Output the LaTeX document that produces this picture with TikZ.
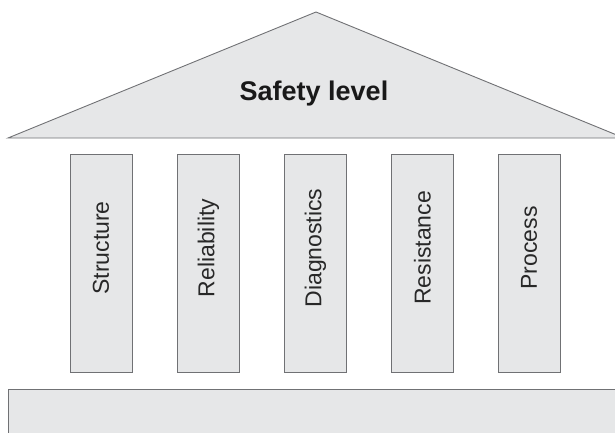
\documentclass[tikz,border=0pt]{standalone}
\usepackage{fontspec}
\setmainfont{Liberation Sans}
\usetikzlibrary{positioning, calc}
\definecolor{stonefill}{RGB}{230,231,232}
\definecolor{stoneline}{RGB}{112,113,116}
\definecolor{inkgray}{RGB}{40,40,40}
\tikzset{
  stone/.style={draw=stoneline, line width=0.9pt, fill=stonefill},
  pillar/.style={stone, minimum width=62pt, minimum height=218pt, inner sep=0pt},
  pillartext/.style={rotate=90, font=\fontsize{23}{26}\selectfont, text=inkgray, inner sep=0pt},
  rooftext/.style={font=\fontsize{27}{31}\selectfont\bfseries, text=black!90, inner sep=0pt}
}

\begin{document}
\begin{tikzpicture}[x=1pt, y=-1pt]
  \useasboundingbox (0,0) rectangle (615,433);
  \clip (0,0) rectangle (615,433);
  % roof
  \coordinate (eaveL) at (8,138);
  \coordinate (apex) at (316,12);
  \coordinate (eaveR) at (624,138);
  \draw[stone, line join=miter] (eaveL) -- (apex) -- (eaveR) -- cycle;
  \node[rooftext] (title) at (314,94) {Safety level};
  % pillars
  \node[pillar] (structure) at (101,263) {};
  \node[pillar] (reliability) at (208.5,263) {};
  \node[pillar] (diagnostics) at (315.5,263) {};
  \node[pillar] (resistance) at (422.5,263) {};
  \node[pillar] (process) at (529,263) {};
  \node[pillartext] (structuretxt) at ([yshift=15pt]structure.center) {Structure};
  \node[pillartext] (reliabilitytxt) at ([yshift=15pt]reliability.center) {Reliability};
  \node[pillartext] (diagnosticstxt) at ([yshift=15pt]diagnostics.center) {Diagnostics};
  \node[pillartext] (resistancetxt) at ([yshift=15pt]resistance.center) {Resistance};
  \node[pillartext] (processtxt) at ([yshift=15pt]process.center) {Process};
  % foundation
  \draw[stone] (8,389) rectangle (630,445);
\end{tikzpicture}
\end{document}
